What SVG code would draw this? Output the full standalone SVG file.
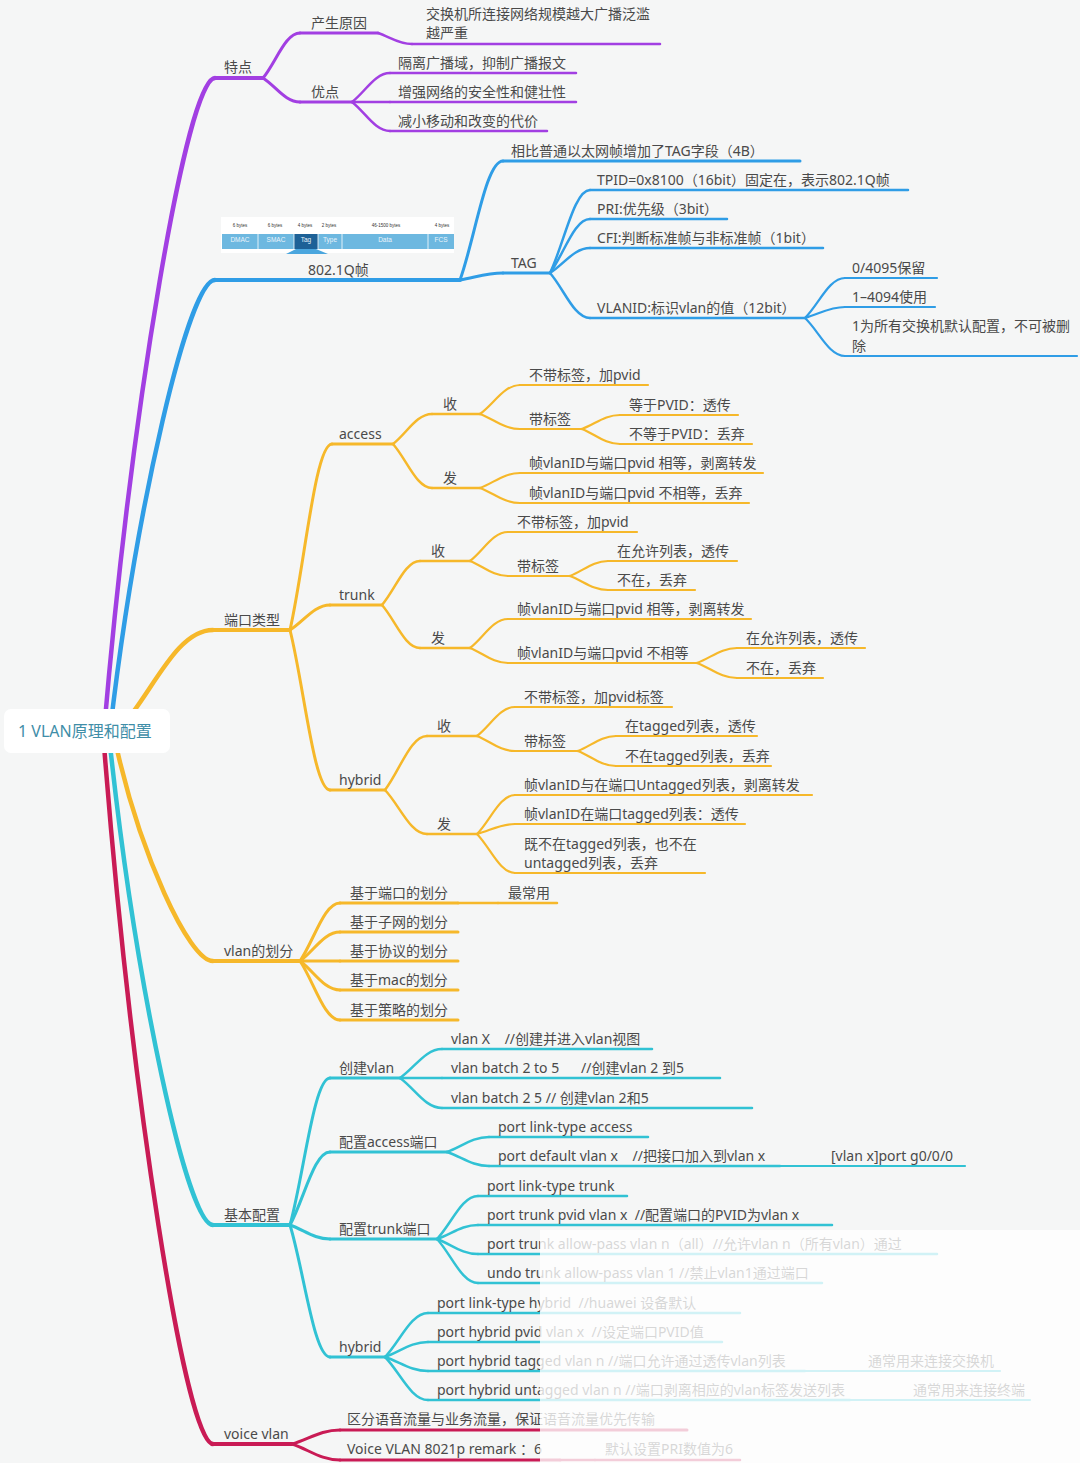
<svg xmlns="http://www.w3.org/2000/svg" width="1080" height="1463" viewBox="0 0 1080 1463">
<style>
.t{font-family:"Noto Sans","Noto Sans CJK SC",sans-serif;font-size:14px;fill:#4a4a4a;white-space:pre}
.s{fill:none;stroke-linecap:round;stroke-linejoin:round}
.cp{stroke:#a23fe2}.cb{stroke:#2f9de6}.cy{stroke:#f6b82a}.cc{stroke:#31c2d4}.cr{stroke:#c91b55}
.w45{stroke-width:4.5}.w4{stroke-width:4}.w3{stroke-width:3}.w25{stroke-width:2.5}.w2{stroke-width:2.2}
.fl{font-family:"Liberation Sans",sans-serif;font-size:4.5px;fill:#333;text-anchor:middle}
.fb{font-family:"Liberation Sans",sans-serif;font-size:6.5px;fill:#eaf4fb;text-anchor:middle}
</style>
<rect width="1080" height="1463" fill="#f5f6f6"/>

<g id="connectors">
<!-- root -->
<path class="s cp w45" d="M104 731C131.8 404.5 187.3 78 215 78"/>
<path class="s cb w45" d="M110 731C136.3 505.5 188.8 280 215 280"/>
<path class="s cy w45" d="M118 731C151.3 695.7 175 630 213 630"/>
<path class="s cy w45" d="M116 745C140 853 188.8 961 213 961"/>
<path class="s cc w45" d="M110 745C135.8 985 187.3 1225 213 1225"/>
<path class="s cr w45" d="M104 745C131.3 1094.5 185.8 1444 213 1444"/>
<!-- purple -->
<path class="s cp w3" d="M263 78C276 62.3 285.2 33 300 33"/>
<path class="s cp w3" d="M263 78C276 86.4 285.2 102 300 102"/>
<path class="s cp w25" d="M378 33C389.9 36.9 398.4 44 412 44"/>
<path class="s cp w25" d="M352 102C365.3 91.9 374.8 73 390 73"/>
<path class="s cp w25" d="M352 102L390 102"/>
<path class="s cp w25" d="M352 102C365.3 112.2 374.8 131 390 131"/>
<!-- blue -->
<path class="s cb w3" d="M460 280C475 238.4 485.8 161 503 161"/>
<path class="s cb w3" d="M460 280C475 277.6 485.8 273 503 273"/>
<path class="s cb w25" d="M550 273C564 244 574 190 590 190"/>
<path class="s cb w25" d="M550 273C564 254.1 574 219 590 219"/>
<path class="s cb w25" d="M550 273C564 264.3 574 248 590 248"/>
<path class="s cb w25" d="M550 273C564 288.8 574 318 590 318"/>
<path class="s cb w2" d="M805 318C819 304 829 278 845 278"/>
<path class="s cb w2" d="M805 318C819 314.2 829 307 845 307"/>
<path class="s cb w2" d="M805 318C819 331.3 829 356 845 356"/>
<!-- yellow: port types -->
<path class="s cy w3" d="M290 630C304.7 564.9 315.2 444 332 444"/>
<path class="s cy w3" d="M290 630C304 621.3 314 605 330 605"/>
<path class="s cy w3" d="M290 630C304 686 314 790 330 790"/>
<path class="s cy w25" d="M393 444C406.7 433.5 416.4 414 432 414"/>
<path class="s cy w25" d="M393 444C406.7 459.4 416.4 488 432 488"/>
<path class="s cy w2" d="M480 414C494 403.9 504 385 520 385"/>
<path class="s cy w2" d="M480 414C494 419.3 504 429 520 429"/>
<path class="s cy w2" d="M582 429C595.3 424.1 604.8 415 620 415"/>
<path class="s cy w2" d="M582 429C595.3 434.3 604.8 444 620 444"/>
<path class="s cy w2" d="M480 488C494 482.8 504 473 520 473"/>
<path class="s cy w2" d="M480 488C494 493.3 504 503 520 503"/>
<path class="s cy w25" d="M382 605C395.3 589.6 404.8 561 420 561"/>
<path class="s cy w25" d="M382 605C395.3 620.1 404.8 648 420 648"/>
<path class="s cy w2" d="M470 561C483.3 550.9 492.8 532 508 532"/>
<path class="s cy w2" d="M470 561C483.3 566.3 492.8 576 508 576"/>
<path class="s cy w2" d="M570 576C583.3 570.8 592.8 561 608 561"/>
<path class="s cy w2" d="M570 576C583.3 580.9 592.8 590 608 590"/>
<path class="s cy w2" d="M470 648C483.3 637.9 492.8 619 508 619"/>
<path class="s cy w2" d="M470 648C483.3 653.3 492.8 663 508 663"/>
<path class="s cy w2" d="M697 663C711 657.8 721 648 737 648"/>
<path class="s cy w2" d="M697 663C711 668.3 721 678 737 678"/>
<path class="s cy w25" d="M385 790C399.7 771.1 410.2 736 427 736"/>
<path class="s cy w25" d="M385 790C399.7 805.4 410.2 834 427 834"/>
<path class="s cy w2" d="M477 736C490.3 725.9 499.8 707 515 707"/>
<path class="s cy w2" d="M477 736C490.3 741.3 499.8 751 515 751"/>
<path class="s cy w2" d="M578 751C591.3 745.8 600.8 736 616 736"/>
<path class="s cy w2" d="M578 751C591.3 756.3 600.8 766 616 766"/>
<path class="s cy w2" d="M477 834C490.3 820.4 499.8 795 515 795"/>
<path class="s cy w2" d="M477 834C490.3 830.5 499.8 824 515 824"/>
<path class="s cy w2" d="M477 834C490.3 847.7 499.8 873 515 873"/>
<!-- yellow: vlan division -->
<path class="s cy w3" d="M300 961C314 940.7 324 903 340 903"/>
<path class="s cy w3" d="M300 961C314 950.9 324 932 340 932"/>
<path class="s cy w3" d="M300 961L340 961"/>
<path class="s cy w3" d="M300 961C314 971.2 324 990 340 990"/>
<path class="s cy w3" d="M300 961C314 981.7 324 1020 340 1020"/>
<path class="s cy w25" d="M458 903L498 903"/>
<!-- cyan -->
<path class="s cc w3" d="M290 1225C304 1173.6 314 1078 330 1078"/>
<path class="s cc w3" d="M290 1225C304 1199.5 314 1152 330 1152"/>
<path class="s cc w3" d="M290 1225C304 1229.9 314 1239 330 1239"/>
<path class="s cc w3" d="M290 1225C304 1271.2 314 1357 330 1357"/>
<path class="s cc w25" d="M400 1078C414.7 1067.9 425.2 1049 442 1049"/>
<path class="s cc w25" d="M400 1078L442 1078"/>
<path class="s cc w25" d="M400 1078C414.7 1088.5 425.2 1108 442 1108"/>
<path class="s cc w25" d="M447 1152C461.7 1146.8 472.2 1137 489 1137"/>
<path class="s cc w25" d="M447 1152C461.7 1156.9 472.2 1166 489 1166"/>
<path class="s cc w2" d="M780 1166L820 1166"/>
<path class="s cc w25" d="M437 1239C451.4 1224 461.6 1196 478 1196"/>
<path class="s cc w25" d="M437 1239C451.4 1234.1 461.6 1225 478 1225"/>
<path class="s cc w25" d="M437 1239C451.4 1244.3 461.6 1254 478 1254"/>
<path class="s cc w25" d="M437 1239C451.4 1254.4 461.6 1283 478 1283"/>
<path class="s cc w25" d="M385 1357C400 1341.6 410.8 1313 428 1313"/>
<path class="s cc w25" d="M385 1357C400 1351.8 410.8 1342 428 1342"/>
<path class="s cc w25" d="M385 1357C400 1361.9 410.8 1371 428 1371"/>
<path class="s cc w25" d="M385 1357C400 1372.1 410.8 1400 428 1400"/>
<path class="s cc w2" d="M805 1371L855 1371"/>
<path class="s cc w2" d="M850 1400L900 1400"/>
<!-- crimson -->
<path class="s cr w3" d="M292 1444C308.8 1439.1 320.8 1430 340 1430"/>
<path class="s cr w3" d="M292 1444C308.8 1449.6 320.8 1460 340 1460"/>
<path class="s cr w25" d="M560 1460L595 1460"/>
</g>

<!-- root -->
<g id="root">
<rect x="4" y="709" width="166" height="44" rx="7" fill="#ffffff"/>
<text x="18" y="737" style="font-family:'Noto Sans','Noto Sans CJK SC',sans-serif;font-size:16px;fill:#3f8ea8">1 VLAN原理和配置</text>
</g>

<!-- purple -->
<g id="n-tedian"><path class="s cp w4" d="M215 78H263"/><text class="t" x="224" y="72">特点</text></g>
<g id="n-yuanyin"><path class="s cp w3" d="M300 33H378"/><text class="t" x="311" y="28">产生原因</text></g>
<g id="n-yuanyin-1"><path class="s cp w25" d="M412 44H660"/><text class="t" x="426" y="19">交换机所连接网络规模越大广播泛滥</text><text class="t" x="426" y="38">越严重</text></g>
<g id="n-youdian"><path class="s cp w3" d="M300 102H352"/><text class="t" x="311" y="97">优点</text></g>
<g id="n-youdian-1"><path class="s cp w25" d="M390 73H576"/><text class="t" x="398" y="68">隔离广播域，抑制广播报文</text></g>
<g id="n-youdian-2"><path class="s cp w25" d="M390 102H576"/><text class="t" x="398" y="97">增强网络的安全性和健壮性</text></g>
<g id="n-youdian-3"><path class="s cp w25" d="M390 131H547"/><text class="t" x="398" y="126">减小移动和改变的代价</text></g>

<!-- blue -->
<g id="n-8021q">
<path class="s cb w4" d="M215 280H460"/>
<rect x="221" y="217" width="233" height="36" fill="#ffffff"/>
<text class="fl" x="240" y="227">6 bytes</text><text class="fl" x="275" y="227">6 bytes</text><text class="fl" x="305" y="227">4 bytes</text><text class="fl" x="329" y="227">2 bytes</text><text class="fl" x="386" y="227">46-1500 bytes</text><text class="fl" x="442" y="227">4 bytes</text>
<rect x="222" y="234" width="232" height="15" fill="#6db8e0"/>
<rect x="294" y="234" width="24" height="15" fill="#1d6197"/>
<path d="M258 234V249M294 234V249M318 234V249M342 234V249M428 234V249" stroke="#ffffff" stroke-width="0.8"/>
<polygon points="296,249 316,249 328,254 286,254" fill="#4aa6de"/>
<text class="fb" x="240" y="242">DMAC</text><text class="fb" x="276" y="242">SMAC</text><text class="fb" x="306" y="242">Tag</text><text class="fb" x="330" y="242">Type</text><text class="fb" x="385" y="242">Data</text><text class="fb" x="441" y="242">FCS</text>
<text class="t" x="308" y="275">802.1Q帧</text>
</g>
<g id="n-compare"><path class="s cb w3" d="M503 161H800"/><text class="t" x="511" y="156">相比普通以太网帧增加了TAG字段（4B）</text></g>
<g id="n-tag"><path class="s cb w3" d="M503 273H550"/><text class="t" x="511" y="268">TAG</text></g>
<g id="n-tpid"><path class="s cb w25" d="M590 190H908"/><text class="t" x="597" y="185">TPID=0x8100（16bit）固定在，表示802.1Q帧</text></g>
<g id="n-pri"><path class="s cb w25" d="M590 219H727"/><text class="t" x="597" y="214">PRI:优先级（3bit）</text></g>
<g id="n-cfi"><path class="s cb w25" d="M590 248H823"/><text class="t" x="597" y="243">CFI:判断标准帧与非标准帧（1bit）</text></g>
<g id="n-vlanid"><path class="s cb w25" d="M590 318H805"/><text class="t" x="597" y="313">VLANID:标识vlan的值（12bit）</text></g>
<g id="n-vid-1"><path class="s cb w2" d="M845 278H937"/><text class="t" x="852" y="273">0/4095保留</text></g>
<g id="n-vid-2"><path class="s cb w2" d="M845 307H935"/><text class="t" x="852" y="302">1–4094使用</text></g>
<g id="n-vid-3"><path class="s cb w2" d="M845 356H1077"/><text class="t" x="852" y="331">1为所有交换机默认配置，不可被删</text><text class="t" x="852" y="351">除</text></g>

<!-- yellow: port types -->
<g id="n-porttype"><path class="s cy w4" d="M213 630H290"/><text class="t" x="224" y="625">端口类型</text></g>
<g id="n-access"><path class="s cy w3" d="M332 444H393"/><text class="t" x="339" y="439">access</text></g>
<g id="n-acc-rx"><path class="s cy w25" d="M432 414H480"/><text class="t" x="443" y="409">收</text></g>
<g id="n-acc-rx-1"><path class="s cy w2" d="M520 385H648"/><text class="t" x="529" y="380">不带标签，加pvid</text></g>
<g id="n-acc-rx-2"><path class="s cy w2" d="M520 429H582"/><text class="t" x="529" y="424">带标签</text></g>
<g id="n-acc-rx-2a"><path class="s cy w2" d="M620 415H738"/><text class="t" x="629" y="410">等于PVID：透传</text></g>
<g id="n-acc-rx-2b"><path class="s cy w2" d="M620 444H752"/><text class="t" x="629" y="439">不等于PVID：丢弃</text></g>
<g id="n-acc-tx"><path class="s cy w25" d="M432 488H480"/><text class="t" x="443" y="483">发</text></g>
<g id="n-acc-tx-1"><path class="s cy w2" d="M520 473H763"/><text class="t" x="529" y="468">帧vlanID与端口pvid 相等，剥离转发</text></g>
<g id="n-acc-tx-2"><path class="s cy w2" d="M520 503H749"/><text class="t" x="529" y="498">帧vlanID与端口pvid 不相等，丢弃</text></g>

<g id="n-trunk"><path class="s cy w3" d="M330 605H382"/><text class="t" x="339" y="600">trunk</text></g>
<g id="n-tr-rx"><path class="s cy w25" d="M420 561H470"/><text class="t" x="431" y="556">收</text></g>
<g id="n-tr-rx-1"><path class="s cy w2" d="M508 532H637"/><text class="t" x="517" y="527">不带标签，加pvid</text></g>
<g id="n-tr-rx-2"><path class="s cy w2" d="M508 576H570"/><text class="t" x="517" y="571">带标签</text></g>
<g id="n-tr-rx-2a"><path class="s cy w2" d="M608 561H737"/><text class="t" x="617" y="556">在允许列表，透传</text></g>
<g id="n-tr-rx-2b"><path class="s cy w2" d="M608 590H695"/><text class="t" x="617" y="585">不在，丢弃</text></g>
<g id="n-tr-tx"><path class="s cy w25" d="M420 648H470"/><text class="t" x="431" y="643">发</text></g>
<g id="n-tr-tx-1"><path class="s cy w2" d="M508 619H751"/><text class="t" x="517" y="614">帧vlanID与端口pvid 相等，剥离转发</text></g>
<g id="n-tr-tx-2"><path class="s cy w2" d="M508 663H697"/><text class="t" x="517" y="658">帧vlanID与端口pvid 不相等</text></g>
<g id="n-tr-tx-2a"><path class="s cy w2" d="M737 648H865"/><text class="t" x="746" y="643">在允许列表，透传</text></g>
<g id="n-tr-tx-2b"><path class="s cy w2" d="M737 678H823"/><text class="t" x="746" y="673">不在，丢弃</text></g>

<g id="n-hybrid"><path class="s cy w3" d="M330 790H385"/><text class="t" x="339" y="785">hybrid</text></g>
<g id="n-hy-rx"><path class="s cy w25" d="M427 736H477"/><text class="t" x="437" y="731">收</text></g>
<g id="n-hy-rx-1"><path class="s cy w2" d="M515 707H672"/><text class="t" x="524" y="702">不带标签，加pvid标签</text></g>
<g id="n-hy-rx-2"><path class="s cy w2" d="M515 751H578"/><text class="t" x="524" y="746">带标签</text></g>
<g id="n-hy-rx-2a"><path class="s cy w2" d="M616 736H757"/><text class="t" x="625" y="731">在tagged列表，透传</text></g>
<g id="n-hy-rx-2b"><path class="s cy w2" d="M616 766H771"/><text class="t" x="625" y="761">不在tagged列表，丢弃</text></g>
<g id="n-hy-tx"><path class="s cy w25" d="M427 834H477"/><text class="t" x="437" y="829">发</text></g>
<g id="n-hy-tx-1"><path class="s cy w2" d="M515 795H812"/><text class="t" x="524" y="790">帧vlanID与在端口Untagged列表，剥离转发</text></g>
<g id="n-hy-tx-2"><path class="s cy w2" d="M515 824H745"/><text class="t" x="524" y="819">帧vlanID在端口tagged列表：透传</text></g>
<g id="n-hy-tx-3"><path class="s cy w2" d="M515 873H705"/><text class="t" x="524" y="849">既不在tagged列表，也不在</text><text class="t" x="524" y="868">untagged列表，丢弃</text></g>

<!-- yellow: vlan division -->
<g id="n-division"><path class="s cy w4" d="M213 961H300"/><text class="t" x="224" y="956">vlan的划分</text></g>
<g id="n-div-1"><path class="s cy w3" d="M340 903H458"/><text class="t" x="350" y="898">基于端口的划分</text></g>
<g id="n-div-1a"><path class="s cy w25" d="M498 903H557"/><text class="t" x="508" y="898">最常用</text></g>
<g id="n-div-2"><path class="s cy w3" d="M340 932H458"/><text class="t" x="350" y="927">基于子网的划分</text></g>
<g id="n-div-3"><path class="s cy w3" d="M340 961H458"/><text class="t" x="350" y="956">基于协议的划分</text></g>
<g id="n-div-4"><path class="s cy w3" d="M340 990H458"/><text class="t" x="350" y="985">基于mac的划分</text></g>
<g id="n-div-5"><path class="s cy w3" d="M340 1020H458"/><text class="t" x="350" y="1015">基于策略的划分</text></g>

<!-- cyan -->
<g id="n-basic"><path class="s cc w4" d="M213 1225H290"/><text class="t" x="224" y="1220">基本配置</text></g>
<g id="n-create"><path class="s cc w3" d="M330 1078H400"/><text class="t" x="339" y="1073">创建vlan</text></g>
<g id="n-create-1"><path class="s cc w25" d="M442 1049H652"/><text class="t" x="451" y="1044">vlan X    //创建并进入vlan视图</text></g>
<g id="n-create-2"><path class="s cc w25" d="M442 1078H720"/><text class="t" x="451" y="1073">vlan batch 2 to 5      //创建vlan 2 到5</text></g>
<g id="n-create-3"><path class="s cc w25" d="M442 1108H752"/><text class="t" x="451" y="1103">vlan batch 2 5 // 创建vlan 2和5</text></g>
<g id="n-cfg-access"><path class="s cc w3" d="M330 1152H447"/><text class="t" x="339" y="1147">配置access端口</text></g>
<g id="n-cfg-access-1"><path class="s cc w25" d="M489 1137H648"/><text class="t" x="498" y="1132">port link-type access</text></g>
<g id="n-cfg-access-2"><path class="s cc w25" d="M489 1166H780"/><text class="t" x="498" y="1161">port default vlan x    //把接口加入到vlan x</text></g>
<g id="n-cfg-access-2a"><path class="s cc w2" d="M820 1166H965"/><text class="t" x="831" y="1161">[vlan x]port g0/0/0</text></g>
<g id="n-cfg-trunk"><path class="s cc w3" d="M330 1239H437"/><text class="t" x="339" y="1234">配置trunk端口</text></g>
<g id="n-cfg-trunk-1"><path class="s cc w25" d="M478 1196H627"/><text class="t" x="487" y="1191">port link-type trunk</text></g>
<g id="n-cfg-trunk-2"><path class="s cc w25" d="M478 1225H832"/><text class="t" x="487" y="1220">port trunk pvid vlan x  //配置端口的PVID为vlan x</text></g>
<g id="n-cfg-trunk-3"><path class="s cc w25" d="M478 1254H937"/><text class="t" x="487" y="1249">port trunk allow-pass vlan n（all）//允许vlan n（所有vlan）通过</text></g>
<g id="n-cfg-trunk-4"><path class="s cc w25" d="M478 1283H822"/><text class="t" x="487" y="1278">undo trunk allow-pass vlan 1 //禁止vlan1通过端口</text></g>
<g id="n-cfg-hybrid"><path class="s cc w3" d="M330 1357H385"/><text class="t" x="339" y="1352">hybrid</text></g>
<g id="n-cfg-hybrid-1"><path class="s cc w25" d="M428 1313H740"/><text class="t" x="437" y="1308">port link-type hybrid  //huawei 设备默认</text></g>
<g id="n-cfg-hybrid-2"><path class="s cc w25" d="M428 1342H722"/><text class="t" x="437" y="1337">port hybrid pvid vlan x  //设定端口PVID值</text></g>
<g id="n-cfg-hybrid-3"><path class="s cc w25" d="M428 1371H805"/><text class="t" x="437" y="1366">port hybrid tagged vlan n //端口允许通过透传vlan列表</text></g>
<g id="n-cfg-hybrid-3a"><path class="s cc w2" d="M855 1371H1000"/><text class="t" x="868" y="1366">通常用来连接交换机</text></g>
<g id="n-cfg-hybrid-4"><path class="s cc w25" d="M428 1400H850"/><text class="t" x="437" y="1395">port hybrid untagged vlan n //端口剥离相应的vlan标签发送列表</text></g>
<g id="n-cfg-hybrid-4a"><path class="s cc w2" d="M900 1400H1030"/><text class="t" x="913" y="1395">通常用来连接终端</text></g>

<!-- crimson -->
<g id="n-voice"><path class="s cr w4" d="M213 1444H292"/><text class="t" x="224" y="1439">voice vlan</text></g>
<g id="n-voice-1"><path class="s cr w3" d="M340 1430H687"/><text class="t" x="347" y="1424">区分语音流量与业务流量，保证语音流量优先传输</text></g>
<g id="n-voice-2"><path class="s cr w3" d="M340 1460H560"/><text class="t" x="347" y="1454">Voice VLAN 8021p remark ：6</text></g>
<g id="n-voice-2a"><path class="s cr w25" d="M595 1460H740"/><text class="t" x="605" y="1454">默认设置PRI数值为6</text></g>

<rect id="fade" x="540" y="1230" width="540" height="233" fill="#ffffff" opacity="0.78"/>
</svg>
